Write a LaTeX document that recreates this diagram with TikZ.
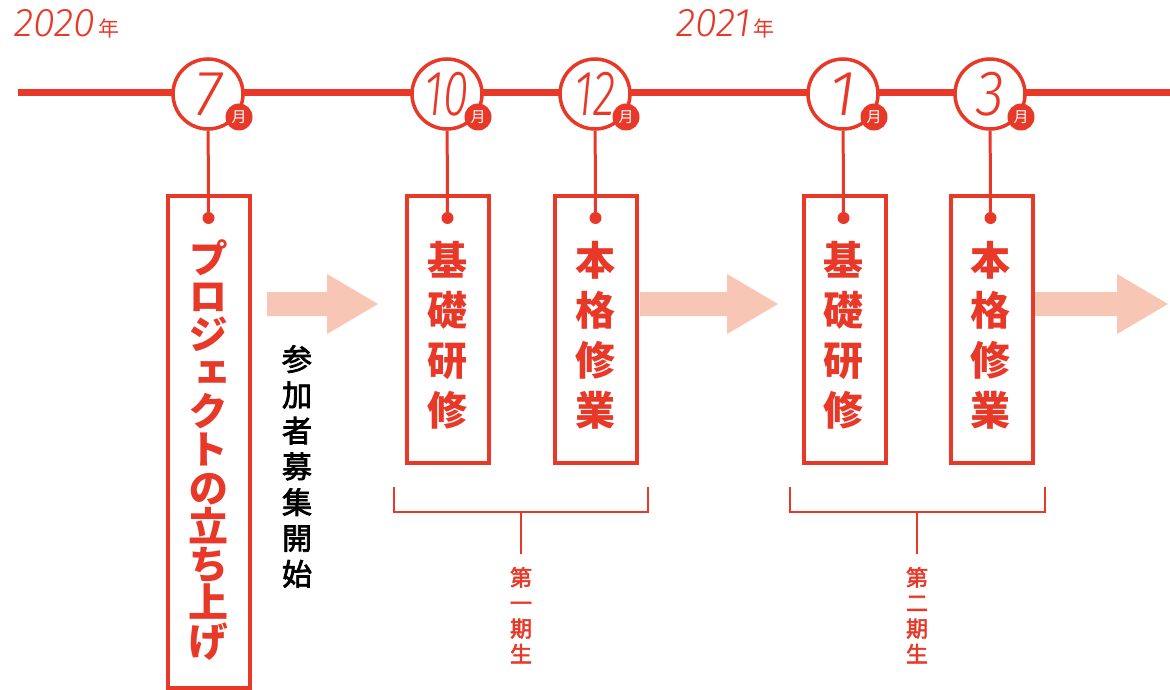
\documentclass[tikz,border=0pt]{standalone}
\usepackage{fontspec}
\usepackage{graphicx}
\usetikzlibrary{positioning}
\newfontfamily\cjk{Noto Sans CJK JP}
\newfontfamily\vcjk{Noto Sans CJK JP}[RawFeature=+vert]
\newfontfamily\vmed{Noto Sans CJK JP}[RawFeature=+vert, FakeBold=2.5]
\IfFontExistsTF{Fira Sans Light Italic}
    {\newfontfamily\numfamily{Fira Sans Light Italic}\newcommand{\numfont}{\numfamily}}
    {\newfontfamily\numfamily{Fira Sans}\newcommand{\numfont}{\numfamily\itshape}}
\definecolor{akared}{RGB}{232,56,40}
\definecolor{usupink}{RGB}{247,198,180}
\newcommand{\nen}{\hspace{3pt}{\cjk\upshape\fontsize{21}{21}\selectfont 年}}
\AtBeginDocument{\lineskiplimit=-100pt}

\tikzset{
    timeline/.style={draw=akared, line width=7pt},
    month/.style={circle, draw=akared, line width=3.5pt, fill=white, minimum size=70pt, inner sep=0pt,
        text=akared, font=\numfont\fontsize{64}{64}\selectfont, text height=44pt, text depth=0pt},
    badge/.style={circle, fill=akared, minimum size=27pt, inner sep=0pt, text=white, font=\cjk\fontsize{15}{15}\selectfont},
    pin/.style={circle, fill=akared, minimum size=12pt, inner sep=0pt},
    conn/.style={draw=akared, line width=3pt},
    stepbox/.style={draw=akared, line width=4pt, minimum width=82pt, anchor=north, inner sep=0pt},
    boxtext/.style={anchor=north, align=center, inner sep=0pt, text=akared, font=\vcjk\bfseries\fontsize{40}{50}\selectfont},
    year/.style={anchor=base west, inner sep=0pt, text=akared, font=\numfont\fontsize{40}{40}\selectfont},
    flow/.style={fill=usupink},
    bracket/.style={draw=akared, line width=2pt},
    term/.style={anchor=north, align=center, inner sep=0pt, text=akared, font=\vmed\fontsize{22}{25.5}\selectfont},
}

\begin{document}
\begin{tikzpicture}[x=1pt, y=-1pt]
    \useasboundingbox (0,0) rectangle (1170,690);

    % years
    \node[year] (y2020) at (14,37) {2020\nen};
    \node[year] (y2021) at (676,37) {2021\nen};

    % time line
    \coordinate (tl-start) at (18,93);
    \coordinate (tl-end) at (1170,93);
    \draw[timeline] (tl-start) -- (tl-end);

    % boxes
    \node[stepbox, minimum height=492pt] (box7) at (208.5,194) {};
    \node[stepbox, minimum height=267pt] (box10) at (448,194) {};
    \node[stepbox, minimum height=267pt] (box12) at (595.5,194) {};
    \node[stepbox, minimum height=267pt] (box1) at (844.5,194) {};
    \node[stepbox, minimum height=267pt] (box3) at (991.5,194) {};

    % months
    \foreach \m/\x/\s in {7/208/1, 10/447/0.72, 12/595/0.72, 1/843/1, 3/990/0.9} {
        \node[month] (m\m) at (\x,94) {\scalebox{\s}[1]{\m}};
        \node[badge] (b\m) at ([shift={(31,23)}]m\m.center) {月};
        \node[pin] (d\m) at (\x+0.5,218) {};
        \draw[conn] (m\m) -- (d\m);
    }

    % arrows
    \foreach \a/\b in {267/378, 640/778, 1035/1168}
        \fill[flow] (\a,292) -- (\b-51,292) -- (\b-51,274) -- (\b,304) -- (\b-51,334) -- (\b-51,316) -- (\a,316) -- cycle;

    % texts in boxes
    \node[boxtext, font=\vcjk\bfseries\fontsize{40}{38.3}\selectfont, below=15pt of d7] (t7) {プ\\ロ\\ジ\\ェ\\ク\\ト\\の\\立\\ち\\上\\げ};
    \node[boxtext, below=17pt of d10] (t10) {基\\礎\\研\\修};
    \node[boxtext, below=17pt of d12] (t12) {本\\格\\修\\業};
    \node[boxtext, below=17pt of d1] (t1) {基\\礎\\研\\修};
    \node[boxtext, below=17pt of d3] (t3) {本\\格\\修\\業};

    \node[anchor=north, align=center, inner sep=0pt, font=\vmed\fontsize{30}{35.8}\selectfont] (recruit) at (297,345) {参\\加\\者\\募\\集\\開\\始};

    % brackets
    \coordinate (k1l) at (394,487);
    \coordinate (k1r) at (648,487);
    \coordinate (k1s) at (521,512);
    \coordinate (k1e) at (521,554);
    \draw[bracket] (k1l) -- ++(0,25) -| (k1r);
    \draw[bracket] (k1s) -- (k1e);
    \node[term, below=13pt of k1e] (gen1) {第\\一\\期\\生};

    \coordinate (k2l) at (790,487);
    \coordinate (k2r) at (1045,487);
    \coordinate (k2s) at (917,512);
    \coordinate (k2e) at (917,554);
    \draw[bracket] (k2l) -- ++(0,25) -| (k2r);
    \draw[bracket] (k2s) -- (k2e);
    \node[term, below=13pt of k2e] (gen2) {第\\二\\期\\生};
\end{tikzpicture}
\end{document}
